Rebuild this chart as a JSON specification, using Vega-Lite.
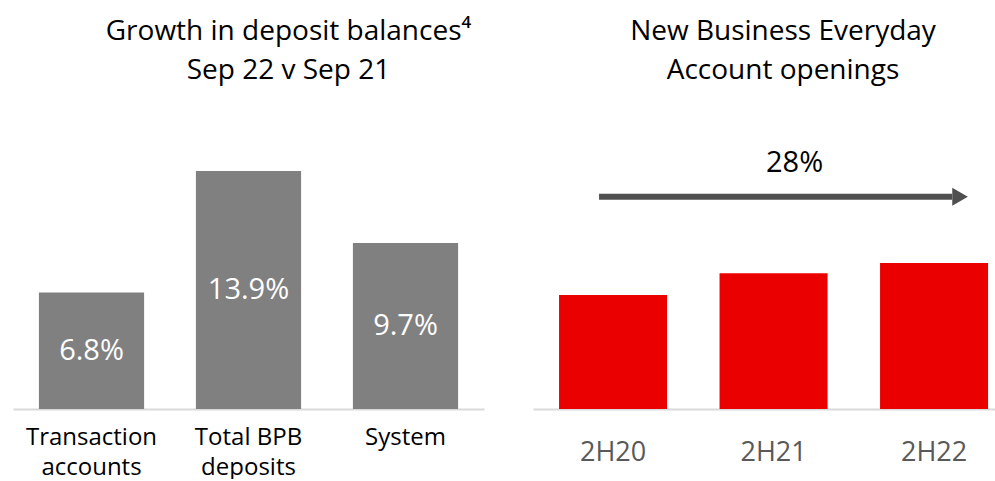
{
  "$schema": "https://vega.github.io/schema/vega-lite/v6.json",
  "padding": {"left": 13, "top": 18, "right": 0, "bottom": 0},
  "spacing": 49,
  "bounds": "flush",
  "config": {
    "view": {"stroke": null},
    "font": "Open Sans",
    "title": {"font": "Open Sans", "fontSize": 28, "fontWeight": "normal", "color": "#000000", "lineHeight": 39, "anchor": "middle"}
  },
  "hconcat": [
    {
      "width": 471,
      "height": 279,
      "title": {"text": ["Growth in deposit balances⁴", "Sep 22 v Sep 21"], "offset": 45, "dx": 40},
      "data": {"values": [
        {"category": "Transaction|accounts", "value": 6.8, "label": "6.8%"},
        {"category": "Total BPB|deposits", "value": 13.9, "label": "13.9%"},
        {"category": "System", "value": 9.7, "label": "9.7%"}
      ]},
      "encoding": {
        "x": {"field": "category", "type": "nominal", "sort": null,
              "scale": {"paddingInner": 0.33, "paddingOuter": 0.165},
              "axis": {"title": null, "labelAngle": 0, "labelExpr": "split(datum.value, '|')", "labelFont": "Open Sans", "labelFontSize": 24, "labelLineHeight": 30, "labelColor": "#000000", "labelPadding": 16, "ticks": false, "domainColor": "#d9d9d9", "domainWidth": 2}}
      },
      "layer": [
        {
          "mark": {"type": "bar", "color": "#808080"},
          "encoding": {"y": {"field": "value", "type": "quantitative", "scale": {"domain": [0, 16.3]}, "axis": null}}
        },
        {
          "mark": {"type": "text", "color": "#ffffff", "fontSize": 29, "font": "Open Sans", "baseline": "middle"},
          "encoding": {
            "y": {"field": "value", "type": "quantitative", "scale": {"domain": [0, 32.6]}, "axis": null},
            "text": {"field": "label"}
          }
        }
      ],
      "resolve": {"scale": {"y": "independent"}}
    },
    {
      "width": 462,
      "height": 279,
      "title": {"text": ["New Business Everyday", "Account openings"], "offset": 45, "dx": 19},
      "data": {"values": [
        {"period": "2H20", "value": 100},
        {"period": "2H21", "value": 119},
        {"period": "2H22", "value": 128}
      ]},
      "encoding": {
        "x": {"field": "period", "type": "nominal", "sort": null,
              "scale": {"paddingInner": 0.327, "paddingOuter": 0.1027, "align": 0.79},
              "axis": {"title": null, "labelAngle": 0, "labelFont": "Open Sans", "labelFontSize": 27, "labelColor": "#595959", "labelPadding": 30, "ticks": false, "domainColor": "#d9d9d9", "domainWidth": 2}},
        "y": {"type": "quantitative", "scale": {"domain": [0, 244.7]}, "axis": null}
      },
      "layer": [
        {
          "mark": {"type": "bar", "color": "#EB0000"},
          "encoding": {"y": {"field": "value", "type": "quantitative"}}
        },
        {
          "data": {"values": [{"from": "2H20", "to": "2H22", "level": 186.2}]},
          "mark": {"type": "rule", "color": "#505050", "strokeWidth": 6, "xOffset": -14, "x2Offset": 18},
          "encoding": {
            "x": {"field": "from"},
            "x2": {"field": "to"},
            "y": {"field": "level", "type": "quantitative"}
          }
        },
        {
          "data": {"values": [{"to": "2H22", "level": 186.2}]},
          "mark": {"type": "point", "shape": "triangle-right", "size": 324, "filled": true, "opacity": 1, "color": "#505050", "xOffset": 26},
          "encoding": {
            "x": {"field": "to"},
            "y": {"field": "level", "type": "quantitative"}
          }
        },
        {
          "data": {"values": [{"at": "2H21", "level": 215.8, "label": "28%"}]},
          "mark": {"type": "text", "fontSize": 29, "font": "Open Sans", "fontWeight": "normal", "color": "#000000", "baseline": "middle", "dx": 21},
          "encoding": {
            "x": {"field": "at"},
            "y": {"field": "level", "type": "quantitative"},
            "text": {"field": "label"}
          }
        }
      ]
    }
  ]
}
